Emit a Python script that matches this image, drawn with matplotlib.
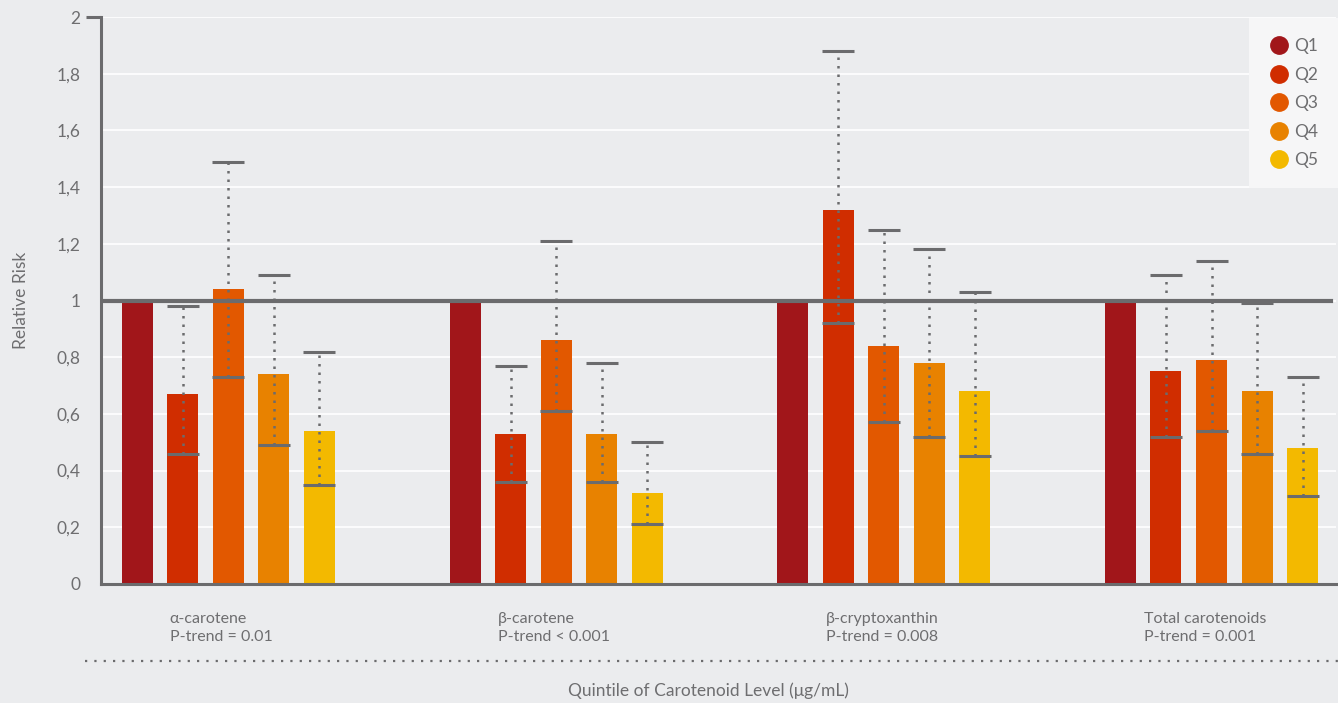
import matplotlib

matplotlib.use("Agg")

import matplotlib.pyplot as plt
import numpy as np
from matplotlib.lines import Line2D
from matplotlib.transforms import blended_transform_factory

# data
groups = ["α-carotene", "β-carotene", "β-cryptoxanthin", "Total carotenoids"]
p_trends = ["P-trend = 0.01", "P-trend < 0.001", "P-trend = 0.008", "P-trend = 0.001"]
quintiles = ["Q1", "Q2", "Q3", "Q4", "Q5"]

rr_q1 = [1.00, 1.00, 1.00, 1.00]
rr_q2 = [0.67, 0.53, 1.32, 0.75]
rr_q3 = [1.04, 0.86, 0.84, 0.79]
rr_q4 = [0.74, 0.53, 0.78, 0.68]
rr_q5 = [0.54, 0.32, 0.68, 0.48]

low_q2 = [0.46, 0.36, 0.92, 0.52]
low_q3 = [0.73, 0.61, 0.57, 0.54]
low_q4 = [0.49, 0.36, 0.52, 0.46]
low_q5 = [0.35, 0.21, 0.45, 0.31]

high_q2 = [0.98, 0.77, 1.88, 1.09]
high_q3 = [1.49, 1.21, 1.25, 1.14]
high_q4 = [1.09, 0.78, 1.18, 0.99]
high_q5 = [0.82, 0.50, 1.03, 0.73]

yticks = [0, 0.2, 0.4, 0.6, 0.8, 1.0, 1.2, 1.4, 1.6, 1.8, 2.0]
ytick_labels = ["0", "0,2", "0,4", "0,6", "0,8", "1", "1,2", "1,4", "1,6", "1,8", "2"]

colors = ["#a1161a", "#d02d00", "#e25800", "#e88200", "#f3b900"]
bg = "#ebecee"
grey = "#6b6b6d"
text_grey = "#6e6e70"

plt.rcParams["font.family"] = ["Lato", "DejaVu Sans"]

fig = plt.figure(figsize=(13.38, 7.03), dpi=100)
fig.patch.set_facecolor(bg)
ax = fig.add_axes([101 / 1338, 119 / 703, 1235 / 1338, 567 / 703])
ax.set_facecolor(bg)

values = [rr_q1, rr_q2, rr_q3, rr_q4, rr_q5]
lows = [None, low_q2, low_q3, low_q4, low_q5]
highs = [None, high_q2, high_q3, high_q4, high_q5]

group_x = np.arange(len(groups))
step = 0.1389
width = 0.0946

for k, (vals, color) in enumerate(zip(values, colors)):
    xs = group_x + k * step
    ax.bar(xs, vals, width=width, color=color, zorder=2)
    if lows[k] is None:
        continue
    vals_arr = np.array(vals)
    yerr = [vals_arr - np.array(lows[k]), np.array(highs[k]) - vals_arr]
    eb = ax.errorbar(
        xs, vals_arr, yerr=yerr, fmt="none", ecolor=grey,
        elinewidth=1.8, capsize=11.5, capthick=2.2, zorder=3,
    )
    eb[2][0].set_linestyle((0, (1, 2.4)))

ax.axhline(1.0, color=grey, linewidth=3.0, xmax=0.996, zorder=4)

ax.set_xlim(-0.111, -0.111 + 1235 / 327.7)
ax.set_ylim(0, 2)
ax.set_yticks(yticks)
ax.set_yticklabels(ytick_labels)
ax.set_xticks([])
ax.yaxis.grid(True, color="white", linewidth=1.2, zorder=0)
ax.set_axisbelow(True)
ax.tick_params(axis="y", length=0, pad=15, labelsize=12.5, labelcolor=text_grey)

for side in ["top", "right"]:
    ax.spines[side].set_visible(False)
for side in ["left", "bottom"]:
    ax.spines[side].set_color(grey)
    ax.spines[side].set_linewidth(2.2)

# short tick at the top
ax.plot([-0.012, 0], [2, 2], transform=blended_transform_factory(ax.transAxes, ax.transData),
        color=grey, linewidth=2.2, clip_on=False, solid_capstyle="butt")

ax.set_ylabel("Relative Risk", fontsize=12.5, color=text_grey)
ax.yaxis.set_label_coords(-0.058, 0.5)

trans = blended_transform_factory(ax.transData, ax.transAxes)
label_x = [0.099, 1.1, 2.1, 3.071]
for lx, name, pt in zip(label_x, groups, p_trends):
    ax.text(lx, -0.049, name + "\n" + pt, transform=trans, ha="left", va="top",
            fontsize=11.5, color=text_grey, linespacing=1.35)

fig.add_artist(Line2D([85 / 1338, 1.0], [42 / 703, 42 / 703], color=grey,
                      linewidth=1.6, linestyle=(0, (1, 3.2))))
fig.text(708 / 1338, 12 / 703, "Quintile of Carotenoid Level (μg/mL)", ha="center",
         va="center", fontsize=12.5, color=text_grey)

handles = [Line2D([], [], marker="o", linestyle="none", markersize=12.5,
                  markerfacecolor=c, markeredgecolor=c) for c in colors]
leg = ax.legend(handles, quintiles, loc="upper right", bbox_to_anchor=(1.002, 0.998),
                borderaxespad=0.0, frameon=True, facecolor="#f6f6f7", edgecolor="none",
                fancybox=False, fontsize=12.5, labelcolor=text_grey, handletextpad=0.35,
                labelspacing=0.72, borderpad=1.15, handlelength=1.1)
leg.get_frame().set_alpha(1)
leg.set_zorder(6)

fig.savefig("out.png", dpi=100, facecolor=bg)
